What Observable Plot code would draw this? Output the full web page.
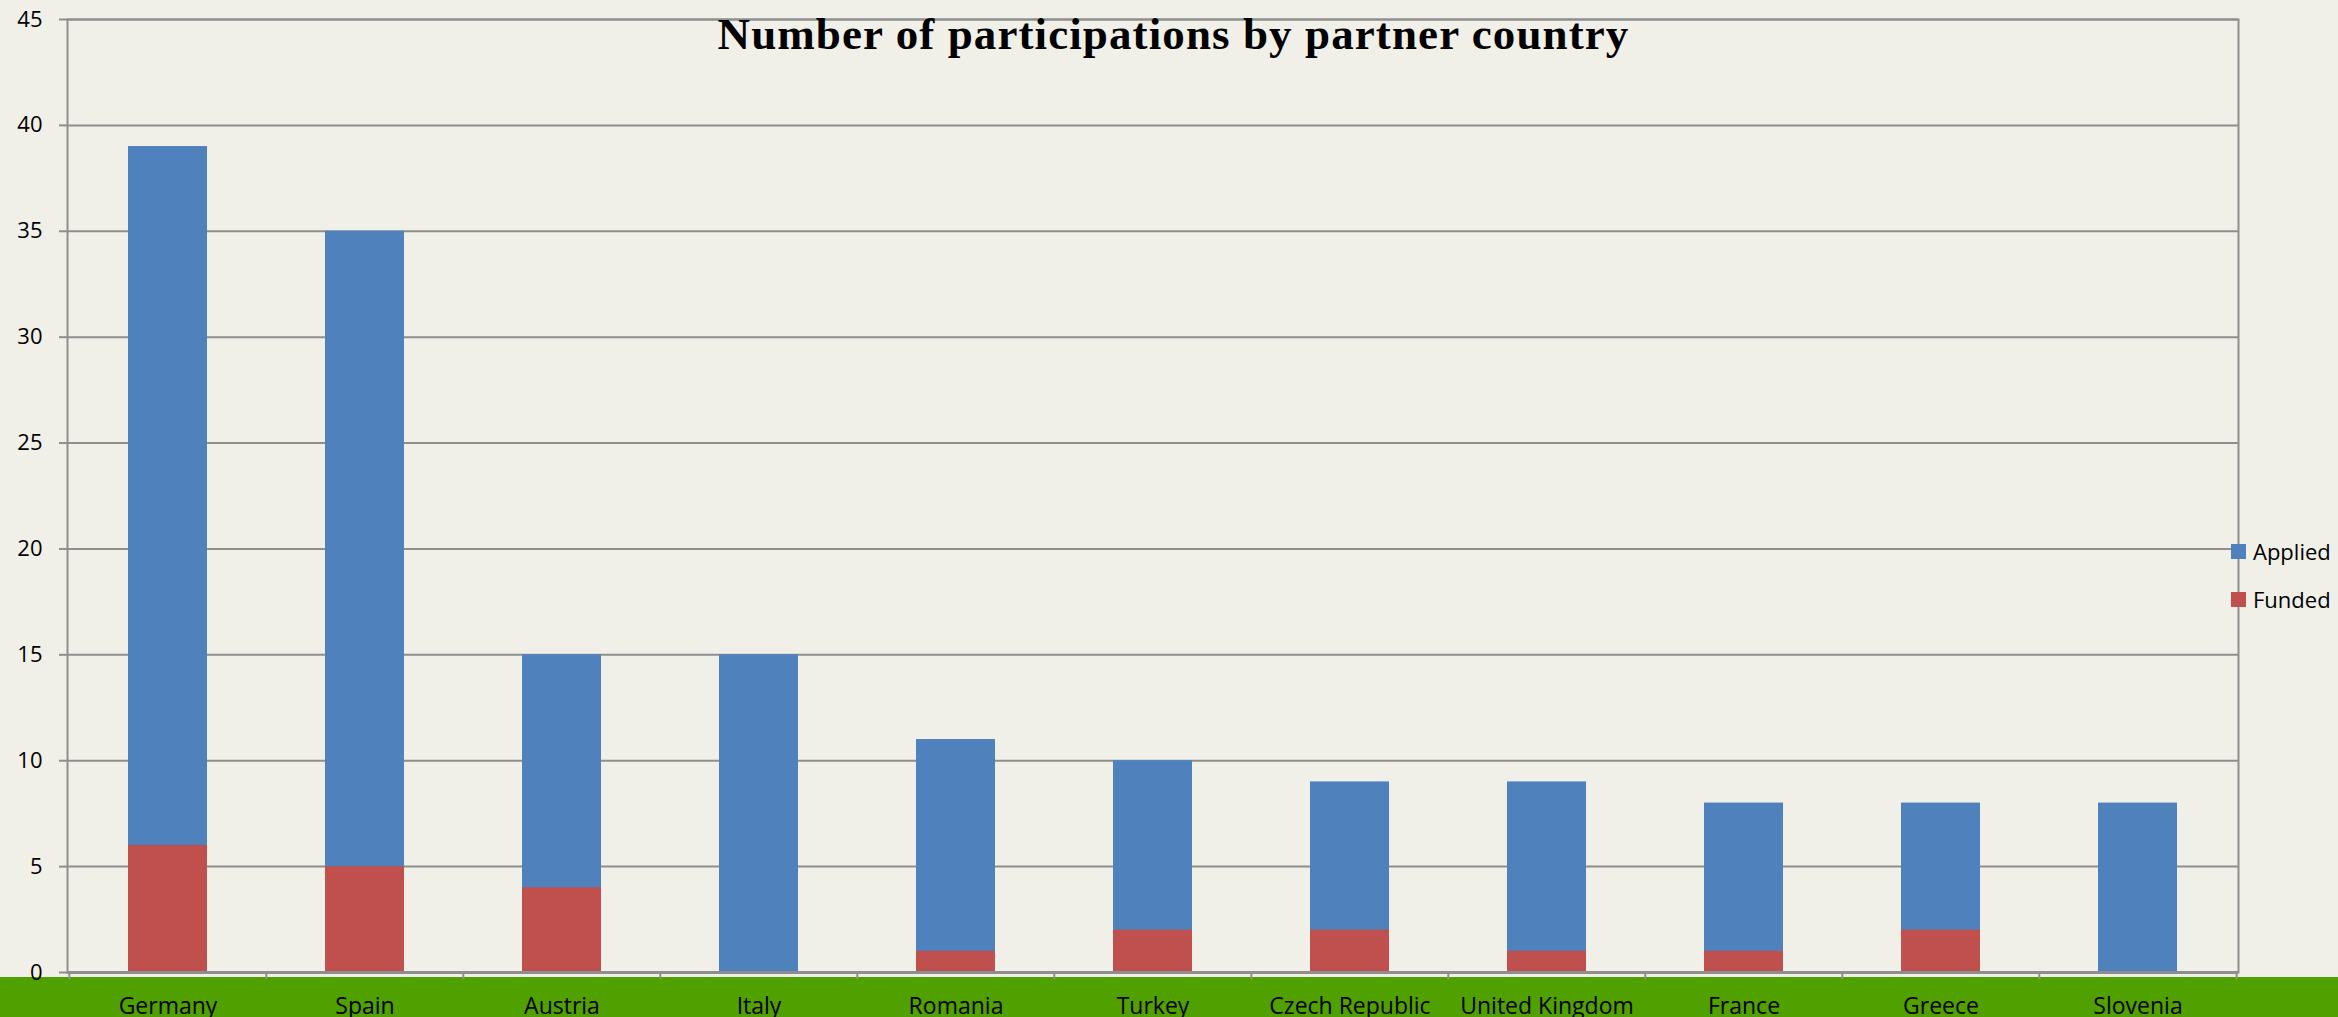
<!DOCTYPE html>
<html>
<head>
<meta charset="utf-8">
<script src="https://cdn.jsdelivr.net/npm/d3@7"></script>
<script src="https://cdn.jsdelivr.net/npm/@observablehq/plot@0.6"></script>
<style>
  html, body { margin: 0; padding: 0; background: #f0f0e8; overflow: hidden; }
  #wrap { position: relative; width: 2338px; height: 1017px; }
  #band { position: absolute; left: 0; top: 977px; width: 2338px; height: 40px; background: #50a000; }
  #chart { position: absolute; left: 0; top: 0; }
  #title { position: absolute; left: 0; top: 12px; width: 2347px; text-align: center;
           font-family: "Liberation Serif", serif; font-weight: bold; font-size: 45px; letter-spacing: 1.1px; line-height: 1; color: #000; }
  .lg { position: absolute; left: 2231px; font-family: "Open Sans", sans-serif; font-size: 22px; color: #000; }
  .lg span.sw { position: absolute; left: 0; width: 15px; height: 15px; }
  .lg span.tx { position: absolute; left: 22px; white-space: nowrap; line-height: 1; }
</style>
</head>
<body>
<div id="wrap">
  <div id="band"></div>
  <div id="chart"></div>
  <div id="title"></div>
  <div id="legend"></div>
</div>
<script>
const countries = ["Germany", "Spain", "Austria", "Italy", "Romania", "Turkey", "Czech Republic", "United Kingdom", "France", "Greece", "Slovenia"];
const applied = [39, 35, 15, 15, 11, 10, 9, 9, 8, 8, 8];
const funded = [6, 5, 4, 0, 1, 2, 2, 1, 1, 2, 0];
const yTicks = [0, 5, 10, 15, 20, 25, 30, 35, 40, 45];
const seriesNames = ["Applied", "Funded"];
const seriesColors = ["#4f81bd", "#c0504d"];
const titleText = "Number of participations by partner country";

const W = 2338, H = 1017, mL = 67, mR = 100, mT = 19, mB = 45;
const step = (W - mL - mR) / countries.length;
const rows = countries.map((c, i) => ({country: c, applied: applied[i], funded: funded[i]}));
const grid = "#8e8e8e";

const chart = Plot.plot({
  width: W, height: H,
  marginLeft: mL, marginRight: mR, marginTop: mT, marginBottom: mB,
  style: {background: "transparent", fontFamily: "Open Sans, sans-serif", fontSize: "22px", color: "#000"},
  x: {domain: countries, paddingInner: 0.6, paddingOuter: 0.3, label: null, tickSize: 0, tickPadding: 25},
  y: {domain: [0, 45], ticks: yTicks, label: null, tickSize: 8, tickPadding: 17},
  marks: [
    Plot.ruleY(yTicks, {stroke: grid, strokeWidth: 2}),
    Plot.frame({stroke: grid, strokeWidth: 2}),
    Plot.barY(rows, {x: "country", y: "applied", fill: seriesColors[0]}),
    Plot.barY(rows, {x: "country", y: "funded", fill: seriesColors[1]}),
    Plot.ruleY([0], {stroke: grid, strokeWidth: 3}),
    Plot.ruleX(countries, {x: d => d, y1: 0, y2: -0.35, dx: -step / 2, stroke: grid, strokeWidth: 2}),
    Plot.ruleX(countries.slice(-1), {x: d => d, y1: 0, y2: -0.35, dx: step / 2, stroke: grid, strokeWidth: 2})
  ]
});
chart.querySelectorAll("[aria-label='y-axis tick'] path, [aria-label='y-axis'] .tick line").forEach(p => { p.setAttribute("stroke", grid); p.setAttribute("stroke-width", "2"); });
chart.querySelectorAll("[aria-label='x-axis tick label'] text, [aria-label='x-axis'] .tick text").forEach(t => t.setAttribute("font-size", "23px"));
document.getElementById("chart").appendChild(chart);
document.getElementById("title").textContent = titleText;

const lg = document.getElementById("legend");
const tops = [544, 592];
seriesNames.forEach((n, i) => {
  const d = document.createElement("div");
  d.className = "lg";
  d.style.top = tops[i] + "px";
  d.innerHTML = `<span class="sw" style="background:${seriesColors[i]}"></span><span class="tx" style="top:-4px">${n}</span>`;
  lg.appendChild(d);
});
</script>
</body>
</html>
